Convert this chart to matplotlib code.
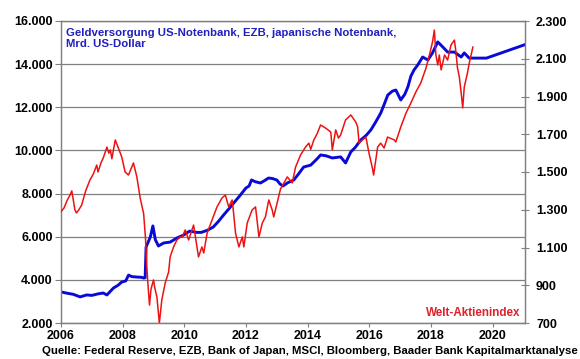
import matplotlib
matplotlib.use('Agg')
import matplotlib.pyplot as plt
from matplotlib.ticker import FuncFormatter

plt.rcParams['font.family'] = ['Liberation Sans', 'DejaVu Sans']
plt.rcParams['font.weight'] = 'bold'

# Geldversorgung (Mrd. US-Dollar), linke Achse
geld_jahr = [2006.0, 2006.2, 2006.4, 2006.62, 2006.83, 2007.0, 2007.2, 2007.37, 2007.49,
             2007.7, 2007.85, 2007.97, 2008.1, 2008.19, 2008.3, 2008.46, 2008.6, 2008.68,
             2008.73, 2008.76, 2008.9, 2008.98, 2009.06, 2009.16, 2009.33, 2009.54, 2009.76,
             2009.98, 2010.17, 2010.4, 2010.55, 2010.75, 2010.94, 2011.1, 2011.27, 2011.45,
             2011.6, 2011.8, 2012.0, 2012.1, 2012.18, 2012.3, 2012.47, 2012.6, 2012.73,
             2012.85, 2013.0, 2013.1, 2013.2, 2013.35, 2013.55, 2013.7, 2013.87, 2014.1,
             2014.3, 2014.42, 2014.6, 2014.8, 2015.07, 2015.23, 2015.4, 2015.55, 2015.72,
             2015.9, 2016.05, 2016.2, 2016.37, 2016.5, 2016.6, 2016.75, 2016.86, 2017.02,
             2017.15, 2017.25, 2017.35, 2017.45, 2017.57, 2017.73, 2017.9, 2018.05, 2018.22,
             2018.38, 2018.54, 2018.76, 2018.98, 2019.08, 2019.24, 2019.8, 2021.1]
geld_wert = [3440, 3380, 3330, 3210, 3300, 3280, 3350, 3390, 3300,
             3620, 3750, 3900, 3950, 4220, 4150, 4130, 4120, 4085,
             4100, 5520, 6000, 6500, 5860, 5570, 5710, 5750, 5940,
             6080, 6260, 6200, 6200, 6300, 6450, 6700, 7000, 7300,
             7560, 7900, 8260, 8350, 8630, 8550, 8490, 8600, 8720,
             8700, 8630, 8450, 8350, 8500, 8630, 8900, 9230, 9320,
             9600, 9790, 9750, 9650, 9700, 9420, 9930, 10150, 10480,
             10700, 10950, 11300, 11730, 12200, 12570, 12750, 12800, 12340,
             12600, 12940, 13450, 13730, 13960, 14330, 14190, 14520, 15030,
             14800, 14560, 14560, 14330, 14520, 14280, 14280, 14930]

# Welt-Aktienindex (MSCI World), rechte Achse
msci_jahr = [2006.0, 2006.1, 2006.2, 2006.3, 2006.35, 2006.45, 2006.5, 2006.58, 2006.67,
             2006.8, 2006.94, 2007.05, 2007.16, 2007.2, 2007.3, 2007.37, 2007.49, 2007.55,
             2007.6, 2007.65, 2007.76, 2007.86, 2007.97, 2008.08, 2008.19, 2008.28, 2008.35,
             2008.46, 2008.57, 2008.68, 2008.74, 2008.78, 2008.81, 2008.87, 2008.92, 2009.0,
             2009.05, 2009.11, 2009.19, 2009.27, 2009.38, 2009.49, 2009.54, 2009.65, 2009.76,
             2009.87, 2009.93, 2010.03, 2010.14, 2010.3, 2010.46, 2010.57, 2010.63, 2010.74,
             2010.9, 2011.06, 2011.22, 2011.33, 2011.44, 2011.55, 2011.6, 2011.66, 2011.77,
             2011.88, 2011.93, 2012.04, 2012.2, 2012.31, 2012.42, 2012.53, 2012.63, 2012.74,
             2012.85, 2012.9, 2013.01, 2013.12, 2013.34, 2013.5, 2013.61, 2013.77, 2013.93,
             2014.04, 2014.1, 2014.2, 2014.3, 2014.42, 2014.58, 2014.75, 2014.8, 2014.91,
             2015.0, 2015.07, 2015.23, 2015.4, 2015.56, 2015.62, 2015.67, 2015.78, 2015.89,
             2015.99, 2016.1, 2016.14, 2016.27, 2016.37, 2016.48, 2016.59, 2016.81, 2016.86,
             2017.02, 2017.19, 2017.35, 2017.51, 2017.67, 2017.84, 2017.95, 2018.05, 2018.11,
             2018.16, 2018.22, 2018.27, 2018.33, 2018.44, 2018.54, 2018.65, 2018.76, 2018.81,
             2018.86, 2018.92, 2018.98, 2019.03, 2019.08, 2019.19, 2019.25, 2019.36]
msci_wert = [1290, 1310, 1350, 1380, 1400, 1300, 1283, 1300, 1325,
             1400, 1458, 1490, 1537, 1500, 1550, 1574, 1632, 1600,
             1617, 1570, 1670, 1627, 1580, 1500, 1484, 1520, 1548,
             1474, 1360, 1280, 1150, 1010, 928, 795, 880, 928,
             880, 838, 700, 822, 912, 970, 1050, 1103, 1140,
             1156, 1156, 1193, 1140, 1219, 1050, 1103, 1071, 1177,
             1246, 1315, 1362, 1378, 1315, 1352, 1280, 1177, 1103,
             1156, 1103, 1230, 1299, 1315, 1156, 1230, 1262, 1352,
             1299, 1262, 1336, 1410, 1474, 1442, 1527, 1590, 1632,
             1653, 1620, 1670, 1700, 1749, 1733, 1712, 1617, 1723,
             1680, 1696, 1776, 1802, 1765, 1740, 1653, 1670, 1685,
             1600, 1521, 1484, 1632, 1653, 1627, 1685, 1670, 1659,
             1738, 1812, 1866, 1924, 1972, 2051, 2120, 2189, 2252,
             2120, 2067, 2120, 2041, 2120, 2093, 2173, 2199, 2136,
             2051, 2003, 1919, 1840, 1950, 2030, 2083, 2162]

jahre = [2006, 2008, 2010, 2012, 2014, 2016, 2018, 2020]
links_ticks = [2000, 4000, 6000, 8000, 10000, 12000, 14000, 16000]
rechts_ticks = [700, 900, 1100, 1300, 1500, 1700, 1900, 2100, 2300]


def punkt(v, pos):
    return f'{int(v):,}'.replace(',', '.')


grau = '#808080'
fig = plt.figure(figsize=(5.8, 3.59), dpi=100)
ax = fig.add_axes([61/580, 1-323/359, 464/580, 302/359])
ax2 = ax.twinx()

ax.plot(geld_jahr, geld_wert, color='#0a0ad8', lw=2.1, zorder=3)
ax2.plot(msci_jahr, msci_wert, color='#ee1111', lw=1.1, zorder=3)

ax.set_xlim(2006, 2021.05)
ax.set_ylim(2000, 16000)
ax2.set_ylim(700, 2300)
ax.set_xticks(jahre)
ax.set_yticks(links_ticks)
ax2.set_yticks(rechts_ticks)
ax.yaxis.set_major_formatter(FuncFormatter(punkt))
ax2.yaxis.set_major_formatter(FuncFormatter(punkt))
ax.grid(axis='y', color=grau, lw=0.9)
ax.set_axisbelow(True)

for a in (ax, ax2):
    for s in a.spines.values():
        s.set_color(grau)
        s.set_linewidth(0.9)
ax.tick_params(axis='y', direction='out', length=4, width=0.8, color=grau,
               labelsize=9, pad=2)
ax.tick_params(axis='x', direction='out', length=3, width=0.8, color=grau,
               labelsize=9, pad=2)
ax2.tick_params(axis='y', direction='inout', length=6, width=0.8, color=grau,
                labelsize=9, pad=5)

ax.text(0.01, 0.978, 'Geldversorgung US-Notenbank, EZB, japanische Notenbank,\nMrd. US-Dollar',
        transform=ax.transAxes, ha='left', va='top', color='#2020c0',
        fontsize=8.2, fontweight='bold', linespacing=1.15)
ax.text(0.99, 0.012, 'Welt-Aktienindex', transform=ax.transAxes, ha='right',
        va='bottom', color='#e0202a', fontsize=8.4, fontweight='bold')
fig.text(310/580, 1-351/359,
         'Quelle: Federal Reserve, EZB, Bank of Japan, MSCI, Bloomberg, Baader Bank Kapitalmarktanalyse',
         ha='center', va='center', fontsize=8.2, fontweight='bold')

fig.savefig('out.png', dpi=100)
